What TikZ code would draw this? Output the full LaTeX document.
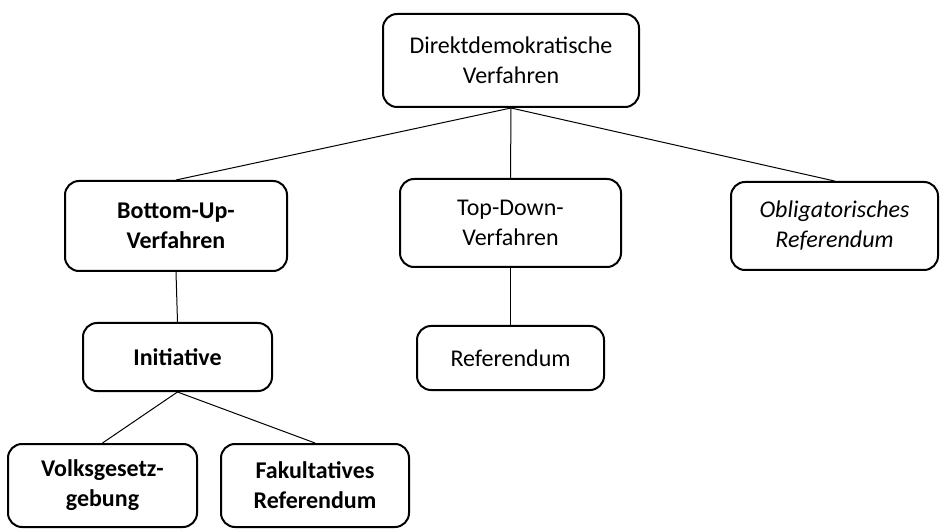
\documentclass[tikz,border=0pt]{standalone}
\usepackage{fontspec}
\setmainfont{Carlito}
\usetikzlibrary{positioning}
\newcommand{\boxfont}{\fontsize{24}{30}\selectfont}
\tikzset{
  box/.style     = {rectangle, rounded corners=14pt, draw=black, line width=2pt,
                    align=center, font=\boxfont, inner sep=0pt},
  boldbox/.style = {box, font=\boxfont\bfseries},
  itbox/.style   = {box, font=\boxfont\itshape},
  link/.style    = {draw=black, line width=1pt},
}
\begin{document}
\begin{tikzpicture}[x=1pt, y=-1pt]
    \useasboundingbox (0,0) rectangle (940,529);
        \node[box,     minimum width=256pt, minimum height=93pt] (dd) at (511,60.5)  {Direktdemokratische\\Verfahren};
        \node[boldbox, minimum width=222pt, minimum height=90pt] (bu) at (176,226)   {Bottom-Up-\\Verfahren};
        \node[box,     minimum width=221pt, minimum height=88pt] (td) at (510.5,223) {Top-Down-\\Verfahren};
        \node[itbox,   minimum width=207pt, minimum height=88pt] (ob) at (834.5,226) {Obligatorisches\\Referendum};
        \node[boldbox, minimum width=189pt, minimum height=68pt] (in) at (177.5,357) {Initiative};
        \node[box,     minimum width=187pt, minimum height=64pt] (re) at (510.5,358) {Referendum};
        \node[boldbox, minimum width=189pt, minimum height=83pt] (vg) at (102.5,485.5) {Volksgesetz-\\gebung};
        \node[boldbox, minimum width=188pt, minimum height=83pt] (fr) at (315,485.5)   {Fakultatives\\Referendum};
        \foreach \x/\y in {dd/bu, dd/td, dd/ob, bu/in, td/re, in/vg, in/fr}{\draw[link] (\x.south) -- (\y.north);}
    \end{tikzpicture}
\end{document}
